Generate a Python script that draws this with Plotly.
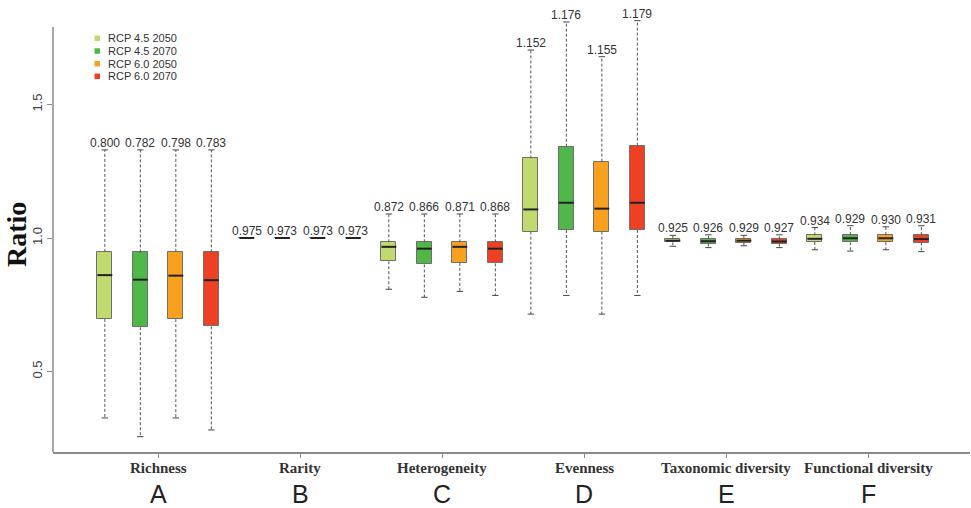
import plotly.graph_objects as go

# ---------------- data ----------------
groups = ["Richness", "Rarity", "Heterogeneity", "Evenness",
          "Taxonomic diversity", "Functional diversity"]
letters = ["A", "B", "C", "D", "E", "F"]
scenarios = ["RCP 4.5 2050", "RCP 4.5 2070", "RCP 6.0 2050", "RCP 6.0 2070"]
colors = ["#C0DA6F", "#50B848", "#F8A11E", "#EE4124"]

# box statistics per scenario, one value per group
lower_45_2050 = [0.326, 1.000, 0.808, 0.715, 0.969, 0.956]
q1_45_2050    = [0.697, 1.000, 0.913, 1.024, 0.984, 0.985]
med_45_2050   = [0.861, 1.000, 0.967, 1.107, 0.990, 0.997]
q3_45_2050    = [0.948, 1.000, 0.984, 1.298, 0.997, 1.010]
upper_45_2050 = [1.330, 1.000, 1.090, 1.704, 1.010, 1.039]

lower_45_2070 = [0.256, 1.000, 0.778, 0.785, 0.964, 0.951]
q1_45_2070    = [0.666, 1.000, 0.901, 1.030, 0.979, 0.984]
med_45_2070   = [0.844, 1.000, 0.960, 1.132, 0.988, 0.999]
q3_45_2070    = [0.946, 1.000, 0.984, 1.342, 0.997, 1.011]
upper_45_2070 = [1.330, 1.000, 1.090, 1.809, 1.012, 1.046]

lower_60_2050 = [0.326, 1.000, 0.800, 0.715, 0.971, 0.956]
q1_60_2050    = [0.696, 1.000, 0.907, 1.024, 0.983, 0.984]
med_60_2050   = [0.859, 1.000, 0.967, 1.110, 0.990, 0.999]
q3_60_2050    = [0.948, 1.000, 0.984, 1.286, 0.997, 1.011]
upper_60_2050 = [1.330, 1.000, 1.090, 1.679, 1.010, 1.042]

lower_60_2070 = [0.281, 1.000, 0.785, 0.785, 0.964, 0.949]
q1_60_2070    = [0.669, 1.000, 0.905, 1.030, 0.979, 0.983]
med_60_2070   = [0.842, 1.000, 0.960, 1.132, 0.987, 0.996]
q3_60_2070    = [0.946, 1.000, 0.984, 1.346, 0.995, 1.011]
upper_60_2070 = [1.330, 1.000, 1.090, 1.814, 1.012, 1.046]

# numbers printed above each box
label_45_2050 = ["0.800", "0.975", "0.872", "1.152", "0.925", "0.934"]
label_45_2070 = ["0.782", "0.973", "0.866", "1.176", "0.926", "0.929"]
label_60_2050 = ["0.798", "0.973", "0.871", "1.155", "0.929", "0.930"]
label_60_2070 = ["0.783", "0.973", "0.868", "1.179", "0.927", "0.931"]

stats = [
    (lower_45_2050, q1_45_2050, med_45_2050, q3_45_2050, upper_45_2050, label_45_2050),
    (lower_45_2070, q1_45_2070, med_45_2070, q3_45_2070, upper_45_2070, label_45_2070),
    (lower_60_2050, q1_60_2050, med_60_2050, q3_60_2050, upper_60_2050, label_60_2050),
    (lower_60_2070, q1_60_2070, med_60_2070, q3_60_2070, upper_60_2070, label_60_2070),
]

# ---------------- style ----------------
BOX_W = 0.42
CAP_W = 0.18
SANS = "Liberation Sans, Arial, sans-serif"
SERIF = "Liberation Serif, Times New Roman, serif"
PLOT_L, PLOT_R, PLOT_T, PLOT_B = 53, 970, 5, 452
PW, PH = PLOT_R - PLOT_L, PLOT_B - PLOT_T


def px_to_paper(px, py):
    return (px - PLOT_L) / PW, (PLOT_B - py) / PH


fig = go.Figure()
annotations = []

for k, (lo, q1, md, q3, hi, lab) in enumerate(stats):
    xs = [g * 4 + k for g in range(len(groups))]
    # whiskers (dashed)
    wx, wy = [], []
    for x, a, b, c, d in zip(xs, lo, q1, q3, hi):
        wx += [x, x, None, x, x, None]
        wy += [c, d, None, b, a, None]
    fig.add_trace(go.Scatter(x=wx, y=wy, mode="lines", showlegend=False,
                             line=dict(color="#555555", width=1, dash="3px,2px"),
                             hoverinfo="skip", cliponaxis=False))
    # whisker caps
    cx, cy = [], []
    for x, a, d in zip(xs, lo, hi):
        cx += [x - CAP_W / 2, x + CAP_W / 2, None, x - CAP_W / 2, x + CAP_W / 2, None]
        cy += [d, d, None, a, a, None]
    fig.add_trace(go.Scatter(x=cx, y=cy, mode="lines", showlegend=False,
                             line=dict(color="#444444", width=1),
                             hoverinfo="skip", cliponaxis=False))
    # boxes
    fig.add_trace(go.Bar(x=xs, y=[c - b for b, c in zip(q1, q3)], base=q1,
                         width=BOX_W, name=scenarios[k], showlegend=False,
                         marker=dict(color=colors[k],
                                     line=dict(color="#6f6f6f", width=1))))
    # medians
    mx, my = [], []
    for x, m in zip(xs, md):
        mx += [x - BOX_W / 2, x + BOX_W / 2, None]
        my += [m, m, None]
    fig.add_trace(go.Scatter(x=mx, y=my, mode="lines", showlegend=False,
                             line=dict(color="#222222", width=2),
                             hoverinfo="skip", cliponaxis=False))
    # value labels
    for x, d, t in zip(xs, hi, lab):
        annotations.append(dict(x=x, y=d, xref="x", yref="y", text=t,
                                showarrow=False, yanchor="middle", yshift=7,
                                font=dict(family=SANS, size=12, color="#333333")))

# group names and letters
for g, (name, L) in enumerate(zip(groups, letters)):
    annotations.append(dict(x=g * 4 + 1.5, y=0, xref="x", yref="paper",
                            text="<b>" + name + "</b>",
                            showarrow=False, yanchor="middle", yshift=-16,
                            font=dict(family=SERIF, size=15, color="#333333")))
    annotations.append(dict(x=g * 4 + 1.5, y=0, xref="x", yref="paper", text=L,
                            showarrow=False, yanchor="middle", yshift=-42,
                            font=dict(family=SANS, size=25, color="#222222")))

# y title
tx, ty = px_to_paper(16, 235)
annotations.append(dict(x=tx, y=ty, xref="paper", yref="paper",
                        text="<b>Ratio</b>", textangle=-90, showarrow=False,
                        xanchor="center", yanchor="middle",
                        font=dict(family=SERIF, size=28, color="#111111")))

# manual legend
shapes = []
leg_y = [38.3, 51.0, 63.7, 76.3]
for k, (name, col) in enumerate(zip(scenarios, colors)):
    x0, y0 = px_to_paper(94.5, leg_y[k] + 2.75)
    x1, y1 = px_to_paper(100, leg_y[k] - 2.75)
    shapes.append(dict(type="rect", xref="paper", yref="paper",
                       x0=x0, x1=x1, y0=y0, y1=y1,
                       fillcolor=col, line=dict(width=0)))
    lx, ly = px_to_paper(106, leg_y[k])
    annotations.append(dict(x=lx, y=ly, xref="paper", yref="paper",
                            text=name, showarrow=False, xanchor="left",
                            yanchor="middle",
                            font=dict(family=SANS, size=11, color="#333333")))

# y-axis line (drawn only over the axis span)
shapes.append(dict(type="line", xref="paper", yref="y", x0=0, x1=0,
                   y0=0.1985, y1=1.790, line=dict(color="#8a8a8a", width=1.5)))

fig.update_layout(
    width=971, height=508,
    margin=dict(l=PLOT_L, r=971 - PLOT_R, t=PLOT_T, b=508 - PLOT_B),
    paper_bgcolor="white", plot_bgcolor="white",
    barmode="overlay", bargap=0,
    showlegend=False,
    annotations=annotations, shapes=shapes,
    xaxis=dict(range=[-1.46, 24.37], showgrid=False, zeroline=False,
               showline=True, linecolor="#8a8a8a", linewidth=1.5,
               tickmode="array", tickvals=[g * 4 + 1.5 for g in range(len(groups))],
               ticktext=["" for _ in groups],
               ticks="outside", ticklen=4, tickcolor="#8a8a8a"),
    yaxis=dict(range=[0.1985, 1.8727], showgrid=False, zeroline=False,
               showline=False, tickmode="array", tickvals=[0.5, 1.0, 1.5],
               ticktext=["0.5", "1.0", "1.5"], tickangle=-90,
               ticks="outside", ticklen=5, tickcolor="#8a8a8a",
               tickfont=dict(family=SANS, size=13, color="#444444")),
)

fig.write_html("out.html",
               config={"displayModeBar": False},
               post_script="document.body.style.margin='0px';"
                           "document.body.style.overflow='hidden';")
